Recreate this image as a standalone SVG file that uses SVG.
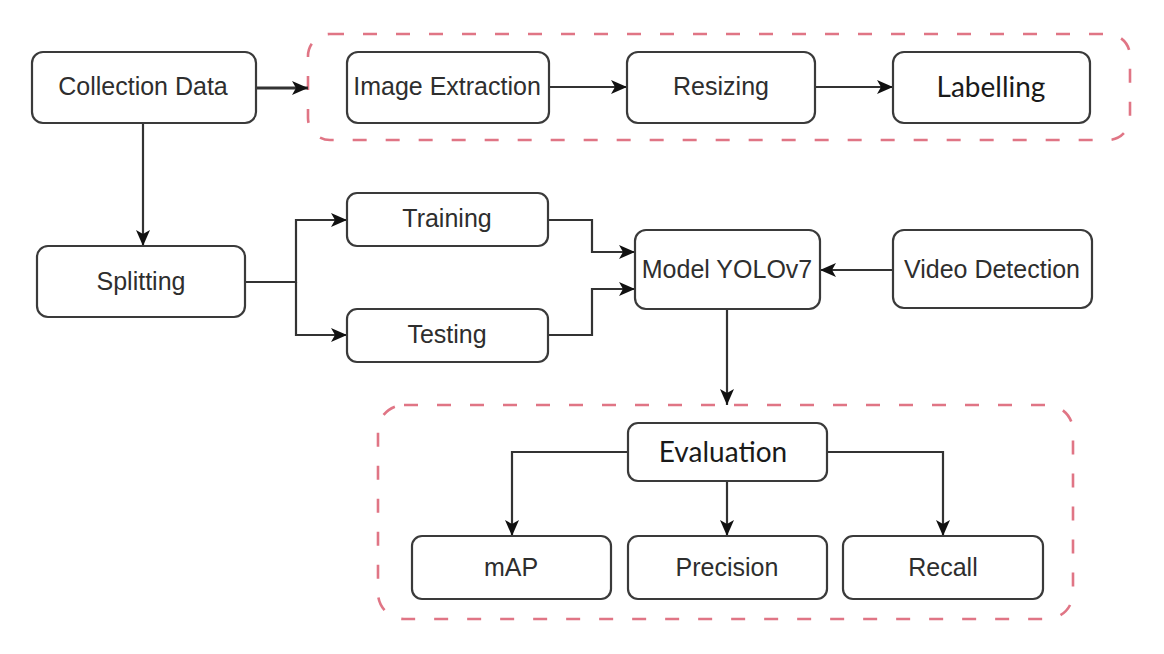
<svg xmlns="http://www.w3.org/2000/svg" width="1164" height="654" viewBox="0 0 1164 654">
  <style>
    .node rect { fill: #ffffff; stroke: #3a3a3a; stroke-width: 2.2; }
    .t { font-family: "Liberation Sans", Arial, sans-serif; font-size: 25px; fill: #2e2e2e; text-anchor: middle; }
    .c { font-family: Lato, "Open Sans", sans-serif; font-size: 28px; fill: #1a1a1a; text-anchor: middle; }
    .grp { fill: none; stroke: #e07585; stroke-width: 2.6; stroke-dasharray: 14 19; }
    .conn path { fill: none; stroke: #333333; stroke-width: 2.2; }
  </style>
  <defs>
    <marker id="arr" markerUnits="userSpaceOnUse" markerWidth="18" markerHeight="16" refX="16" refY="8" orient="auto">
      <path d="M0,1 L16,8 L0,15 L4,8 Z" fill="#111111"/>
    </marker>
  </defs>
  <rect width="1164" height="654" fill="#ffffff"/>

  <g id="group-preprocessing">
    <rect class="grp" x="308" y="34" width="822" height="106" rx="22"/>
  </g>
  <g id="group-evaluation">
    <rect class="grp" x="378" y="405" width="695" height="214" rx="26"/>
  </g>

  <g class="conn" id="connectors">
    <path d="M256,88 L308,88" marker-end="url(#arr)" style="stroke-width:3"/>
    <path d="M549,87 L627,87" marker-end="url(#arr)"/>
    <path d="M815,87 L893,87" marker-end="url(#arr)"/>
    <path d="M143,123 L143,246" marker-end="url(#arr)"/>
    <path d="M245,282 L296,282 L296,220 L347,220" marker-end="url(#arr)"/>
    <path d="M296,282 L296,335 L347,335" marker-end="url(#arr)"/>
    <path d="M548,220 L592,220 L592,252 L635,252" marker-end="url(#arr)"/>
    <path d="M548,335 L592,335 L592,289 L635,289" marker-end="url(#arr)"/>
    <path d="M893,270 L820,270" marker-end="url(#arr)"/>
    <path d="M727,309 L727,405" marker-end="url(#arr)"/>
    <path d="M628,452 L512,452 L512,536" marker-end="url(#arr)"/>
    <path d="M727,481 L727,536" marker-end="url(#arr)"/>
    <path d="M827,452 L943,452 L943,536" marker-end="url(#arr)"/>
  </g>

  <g class="node" id="collection-data">
    <rect x="32" y="52" width="224" height="71" rx="11"/>
    <text class="t" x="143" y="95">Collection Data</text>
  </g>
  <g class="node" id="image-extraction">
    <rect x="347" y="52" width="202" height="71" rx="11"/>
    <text class="t" x="447" y="95">Image Extraction</text>
  </g>
  <g class="node" id="resizing">
    <rect x="627" y="52" width="188" height="71" rx="11"/>
    <text class="t" x="721" y="95">Resizing</text>
  </g>
  <g class="node" id="labelling">
    <rect x="893" y="52" width="197" height="71" rx="11"/>
    <text class="c" x="991" y="97">Labelling</text>
  </g>
  <g class="node" id="splitting">
    <rect x="37" y="246" width="208" height="71" rx="11"/>
    <text class="t" x="141" y="290">Splitting</text>
  </g>
  <g class="node" id="training">
    <rect x="347" y="193" width="201" height="53" rx="10"/>
    <text class="t" x="447" y="227">Training</text>
  </g>
  <g class="node" id="testing">
    <rect x="347" y="309" width="201" height="53" rx="10"/>
    <text class="t" x="447" y="343">Testing</text>
  </g>
  <g class="node" id="model-yolov7">
    <rect x="635" y="230" width="185" height="79" rx="11"/>
    <text class="t" x="727" y="278">Model YOLOv7</text>
  </g>
  <g class="node" id="video-detection">
    <rect x="893" y="230" width="199" height="78" rx="11"/>
    <text class="t" x="992" y="278">Video Detection</text>
  </g>
  <g class="node" id="evaluation">
    <rect x="628" y="423" width="199" height="58" rx="10"/>
    <text class="c" x="723" y="462">Evaluation</text>
  </g>
  <g class="node" id="map">
    <rect x="412" y="536" width="199" height="63" rx="10"/>
    <text class="t" x="511" y="576">mAP</text>
  </g>
  <g class="node" id="precision">
    <rect x="628" y="536" width="199" height="63" rx="10"/>
    <text class="t" x="727" y="576">Precision</text>
  </g>
  <g class="node" id="recall">
    <rect x="843" y="536" width="200" height="63" rx="10"/>
    <text class="t" x="943" y="576">Recall</text>
  </g>
</svg>
